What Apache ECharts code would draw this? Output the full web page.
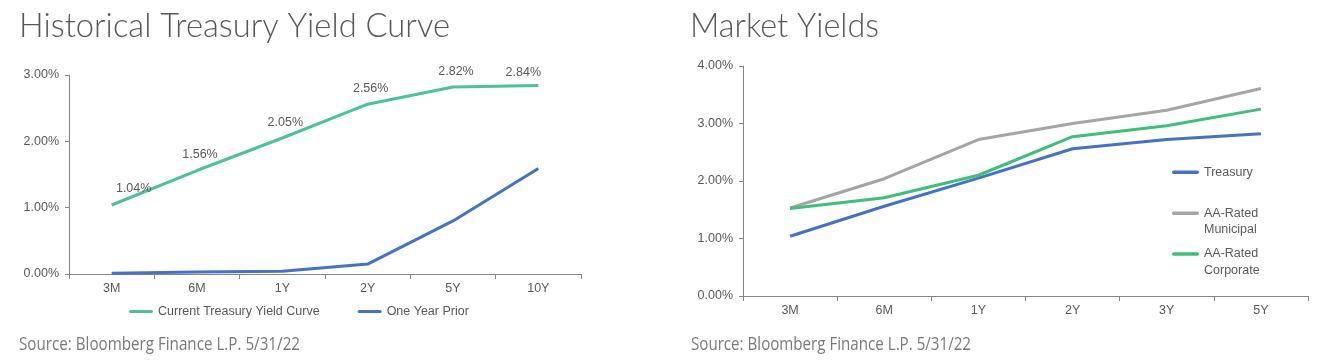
<!DOCTYPE html>
<html><head><meta charset="utf-8">
<script src="https://cdn.jsdelivr.net/npm/echarts@6/dist/echarts.min.js"></script>
<style>html,body{margin:0;padding:0;background:#fff}#c{width:1328px;height:361px}</style>
</head><body><div id="c"></div>
<script>
// ---- data ----
const leftCategories = ['3M', '6M', '1Y', '2Y', '5Y', '10Y'];
const currentCurve = [1.04, 1.56, 2.05, 2.56, 2.82, 2.84];
const oneYearPrior = [0.01, 0.03, 0.04, 0.15, 0.80, 1.59];
const rightCategories = ['3M', '6M', '1Y', '2Y', '3Y', '5Y'];
const treasury = [1.04, 1.56, 2.05, 2.56, 2.72, 2.82];
const municipal = [1.53, 2.04, 2.72, 3.00, 3.23, 3.61];
const corporate = [1.52, 1.71, 2.10, 2.77, 2.96, 3.25];
const leftTitle = 'Historical Treasury Yield Curve';
const rightTitle = 'Market Yields';
const sourceNote = 'Source: Bloomberg Finance L.P. 5/31/22';

// ---- styles ----
const AX = '#868686';
const TXT = '#595959';
const F = 'Liberation Sans, Arial, sans-serif';
const FS = 12.5;
const titleFont = '300 34px Lato';
const srcFont = '18px "Open Sans"';
const lineIcon = 'path://M2,0 L30,0 A2,2 0 0 1 30,4 L2,4 A2,2 0 0 1 2,0 Z';

const mctx = document.createElement('canvas').getContext('2d');
function fit(text, font, target) { mctx.font = font; return target / mctx.measureText(text).width; }

function pct(v) { return v.toFixed(2) + '%'; }

function xAxis(idx, cats) {
  return {
    type: 'category', gridIndex: idx, data: cats, boundaryGap: true,
    axisLine: { show: true, lineStyle: { color: AX, width: 1 } },
    axisTick: { show: true, length: 5, lineStyle: { color: AX } },
    axisLabel: { color: TXT, fontSize: FS, fontFamily: F, margin: 8 },
    splitLine: { show: false }
  };
}
function yAxis(idx, max) {
  return {
    type: 'value', gridIndex: idx, min: 0, max: max, interval: 1,
    axisLine: { show: true, lineStyle: { color: AX, width: 1 } },
    axisTick: { show: true, length: 4, lineStyle: { color: AX } },
    axisLabel: { color: TXT, fontSize: FS, fontFamily: F, margin: 10, formatter: pct },
    splitLine: { show: false }
  };
}
function line(name, data, color, xi, extra) {
  return Object.assign({
    type: 'line', name: name, data: data, xAxisIndex: xi, yAxisIndex: xi,
    symbol: 'circle', symbolSize: 0, showSymbol: true, smooth: false, color: color,
    itemStyle: { color: color },
    lineStyle: { width: 3, color: color },
    emphasis: { disabled: true }
  }, extra || {});
}

// edge labels are nudged inward (as in the original layout)
function labelled(values) {
  const last = values.length - 1;
  return values.map((v, i) => {
    if (i === 0) return { value: v, label: { offset: [22, -1] } };
    if (i === last) return { value: v, label: { offset: [-15, 2] } };
    return v;
  });
}

const legendText = { color: TXT, fontSize: FS, fontFamily: F, lineHeight: 16.4 };
const rightLegend = { orient: 'vertical', left: 1172, padding: 0, icon: lineIcon,
  itemWidth: 27, itemHeight: 4, textStyle: legendText };

const option = {
  animation: false,
  grid: [
    { left: 69, top: 75, width: 512, height: 199 },
    { left: 743, top: 66, width: 565, height: 230 }
  ],
  xAxis: [xAxis(0, leftCategories), xAxis(1, rightCategories)],
  yAxis: [yAxis(0, 3), yAxis(1, 4)],
  legend: [
    { data: ['Current Treasury Yield Curve', 'One Year Prior'], left: 129, top: 304, padding: 0,
      icon: lineIcon, itemWidth: 24, itemHeight: 4, itemGap: 38,
      textStyle: { color: TXT, fontSize: FS, fontFamily: F, lineHeight: 15 } },
    Object.assign({ data: ['Treasury'], top: 164 }, rightLegend),
    Object.assign({ data: ['AA-Rated Municipal'], top: 188.7,
      formatter: n => '\n' + n.replace(' ', '\n') }, rightLegend),
    Object.assign({ data: ['AA-Rated Corporate'], top: 229.4,
      formatter: n => '\n' + n.replace(' ', '\n') }, rightLegend)
  ],
  series: [
    line('Current Treasury Yield Curve', labelled(currentCurve), '#4DC09F', 0, {
      label: { show: true, position: 'top', distance: 9, offset: [3, 0],
        color: TXT, fontSize: FS, fontFamily: F, formatter: p => pct(p.value) }
    }),
    line('One Year Prior', oneYearPrior, '#4472C4', 0),
    line('Treasury', treasury, '#4472C4', 1),
    line('AA-Rated Municipal', municipal, '#A5A5A5', 1),
    line('AA-Rated Corporate', corporate, '#3FBE7C', 1)
  ],
  graphic: [
    { type: 'text', x: 19, y: 26, scaleX: fit(leftTitle, titleFont, 431),
      style: { text: leftTitle, font: titleFont, fill: '#58585a', align: 'left', verticalAlign: 'middle' } },
    { type: 'text', x: 690, y: 26, scaleX: fit(rightTitle, titleFont, 189),
      style: { text: rightTitle, font: titleFont, fill: '#58585a', align: 'left', verticalAlign: 'middle' } },
    { type: 'text', x: 19, y: 345, scaleX: fit(sourceNote, srcFont, 281),
      style: { text: sourceNote, font: srcFont, fill: '#7a7a7a', align: 'left', verticalAlign: 'middle' } },
    { type: 'text', x: 691, y: 345, scaleX: fit(sourceNote, srcFont, 280),
      style: { text: sourceNote, font: srcFont, fill: '#7a7a7a', align: 'left', verticalAlign: 'middle' } }
  ]
};

const chart = echarts.init(document.getElementById('c'), null, { renderer: 'canvas' });
chart.setOption(option);
</script>
</body></html>
